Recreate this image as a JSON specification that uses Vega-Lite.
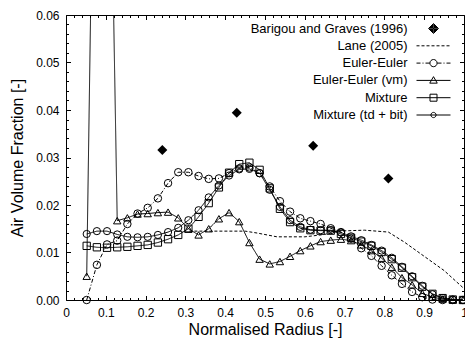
{
  "$schema": "https://vega.github.io/schema/vega-lite/v6.json",
  "width": 398,
  "height": 285,
  "autosize": {"type": "none"},
  "padding": {"left": 66, "top": 15, "right": 1, "bottom": 43},
  "background": "white",
  "config": {
    "font": "Liberation Sans",
    "view": {"stroke": "black", "strokeWidth": 1},
    "axis": {"domain": false, "grid": false, "tickColor": "black", "tickWidth": 1, "labelColor": "black", "labelFontSize": 12, "labelFont": "Liberation Sans", "titleColor": "black", "titleFontSize": 16, "titleFontWeight": "normal", "titleFont": "Liberation Sans", "labelFlush": false, "labelOverlap": false}
  },
  "data": {"values": [
    {"s":"Barigou and Graves (1996)","r":0.242,"v":0.0316},
    {"s":"Barigou and Graves (1996)","r":0.429,"v":0.0394},
    {"s":"Barigou and Graves (1996)","r":0.621,"v":0.0325},
    {"s":"Barigou and Graves (1996)","r":0.81,"v":0.0256},
    {"s":"Lane (2005)","r":0.31,"v":0.0145},
    {"s":"Lane (2005)","r":0.45,"v":0.0145},
    {"s":"Lane (2005)","r":0.48,"v":0.0141},
    {"s":"Lane (2005)","r":0.53,"v":0.0133},
    {"s":"Lane (2005)","r":0.6,"v":0.0133},
    {"s":"Lane (2005)","r":0.65,"v":0.0138},
    {"s":"Lane (2005)","r":0.68,"v":0.0145},
    {"s":"Lane (2005)","r":0.75,"v":0.0147},
    {"s":"Lane (2005)","r":0.81,"v":0.0143},
    {"s":"Lane (2005)","r":0.85,"v":0.0122},
    {"s":"Lane (2005)","r":0.89,"v":0.0098},
    {"s":"Lane (2005)","r":0.95,"v":0.0062},
    {"s":"Lane (2005)","r":1.0,"v":0.0024},
    {"s":"Euler-Euler","r":0.052,"v":0.0},
    {"s":"Euler-Euler","r":0.0776,"v":0.0074},
    {"s":"Euler-Euler","r":0.1031,"v":0.0117},
    {"s":"Euler-Euler","r":0.1287,"v":0.0125},
    {"s":"Euler-Euler","r":0.1542,"v":0.016},
    {"s":"Euler-Euler","r":0.1798,"v":0.0182},
    {"s":"Euler-Euler","r":0.2053,"v":0.0194},
    {"s":"Euler-Euler","r":0.2309,"v":0.0214},
    {"s":"Euler-Euler","r":0.2564,"v":0.0246},
    {"s":"Euler-Euler","r":0.282,"v":0.0269},
    {"s":"Euler-Euler","r":0.3075,"v":0.0269},
    {"s":"Euler-Euler","r":0.3331,"v":0.0261},
    {"s":"Euler-Euler","r":0.3586,"v":0.0255},
    {"s":"Euler-Euler","r":0.3842,"v":0.0256},
    {"s":"Euler-Euler","r":0.4097,"v":0.0267},
    {"s":"Euler-Euler","r":0.4353,"v":0.0277},
    {"s":"Euler-Euler","r":0.4608,"v":0.0279},
    {"s":"Euler-Euler","r":0.4864,"v":0.0267},
    {"s":"Euler-Euler","r":0.5119,"v":0.0239},
    {"s":"Euler-Euler","r":0.5375,"v":0.0208},
    {"s":"Euler-Euler","r":0.563,"v":0.0186},
    {"s":"Euler-Euler","r":0.5886,"v":0.0172},
    {"s":"Euler-Euler","r":0.6141,"v":0.0166},
    {"s":"Euler-Euler","r":0.6397,"v":0.016},
    {"s":"Euler-Euler","r":0.6652,"v":0.0151},
    {"s":"Euler-Euler","r":0.6908,"v":0.0143},
    {"s":"Euler-Euler","r":0.7163,"v":0.0129},
    {"s":"Euler-Euler","r":0.7419,"v":0.0109},
    {"s":"Euler-Euler","r":0.7674,"v":0.0093},
    {"s":"Euler-Euler","r":0.793,"v":0.0072},
    {"s":"Euler-Euler","r":0.8185,"v":0.0052},
    {"s":"Euler-Euler","r":0.8441,"v":0.0034},
    {"s":"Euler-Euler","r":0.8696,"v":0.0017},
    {"s":"Euler-Euler","r":0.8952,"v":0.0006},
    {"s":"Euler-Euler","r":0.9207,"v":0.0001},
    {"s":"Euler-Euler","r":0.9463,"v":0.0},
    {"s":"Euler-Euler","r":0.9718,"v":0.0},
    {"s":"Euler-Euler","r":0.9974,"v":0.0},
    {"s":"Euler-Euler (vm)","r":0.052,"v":0.005},
    {"s":"Euler-Euler (vm)","r":0.0776,"v":0.15},
    {"s":"Euler-Euler (vm)","r":0.1031,"v":0.14},
    {"s":"Euler-Euler (vm)","r":0.1287,"v":0.0167},
    {"s":"Euler-Euler (vm)","r":0.1542,"v":0.0173},
    {"s":"Euler-Euler (vm)","r":0.1798,"v":0.0181},
    {"s":"Euler-Euler (vm)","r":0.2053,"v":0.0182},
    {"s":"Euler-Euler (vm)","r":0.2309,"v":0.0184},
    {"s":"Euler-Euler (vm)","r":0.2564,"v":0.0185},
    {"s":"Euler-Euler (vm)","r":0.282,"v":0.0173},
    {"s":"Euler-Euler (vm)","r":0.3075,"v":0.015},
    {"s":"Euler-Euler (vm)","r":0.3331,"v":0.0137},
    {"s":"Euler-Euler (vm)","r":0.3586,"v":0.015},
    {"s":"Euler-Euler (vm)","r":0.3842,"v":0.0171},
    {"s":"Euler-Euler (vm)","r":0.4097,"v":0.0184},
    {"s":"Euler-Euler (vm)","r":0.4353,"v":0.0165},
    {"s":"Euler-Euler (vm)","r":0.4608,"v":0.0121},
    {"s":"Euler-Euler (vm)","r":0.4864,"v":0.0086},
    {"s":"Euler-Euler (vm)","r":0.5119,"v":0.0076},
    {"s":"Euler-Euler (vm)","r":0.5375,"v":0.0081},
    {"s":"Euler-Euler (vm)","r":0.563,"v":0.0092},
    {"s":"Euler-Euler (vm)","r":0.5886,"v":0.0104},
    {"s":"Euler-Euler (vm)","r":0.6141,"v":0.0114},
    {"s":"Euler-Euler (vm)","r":0.6397,"v":0.0123},
    {"s":"Euler-Euler (vm)","r":0.6652,"v":0.0126},
    {"s":"Euler-Euler (vm)","r":0.6908,"v":0.0128},
    {"s":"Euler-Euler (vm)","r":0.7163,"v":0.0125},
    {"s":"Euler-Euler (vm)","r":0.7419,"v":0.0116},
    {"s":"Euler-Euler (vm)","r":0.7674,"v":0.0104},
    {"s":"Euler-Euler (vm)","r":0.793,"v":0.0088},
    {"s":"Euler-Euler (vm)","r":0.8185,"v":0.0069},
    {"s":"Euler-Euler (vm)","r":0.8441,"v":0.0047},
    {"s":"Euler-Euler (vm)","r":0.8696,"v":0.0032},
    {"s":"Euler-Euler (vm)","r":0.8952,"v":0.0014},
    {"s":"Euler-Euler (vm)","r":0.9207,"v":0.0006},
    {"s":"Euler-Euler (vm)","r":0.9463,"v":0.0002},
    {"s":"Euler-Euler (vm)","r":0.9718,"v":0.0},
    {"s":"Euler-Euler (vm)","r":0.9974,"v":0.0},
    {"s":"Mixture","r":0.052,"v":0.0114},
    {"s":"Mixture","r":0.0776,"v":0.0111},
    {"s":"Mixture","r":0.1031,"v":0.011},
    {"s":"Mixture","r":0.1287,"v":0.0111},
    {"s":"Mixture","r":0.1542,"v":0.0112},
    {"s":"Mixture","r":0.1798,"v":0.0114},
    {"s":"Mixture","r":0.2053,"v":0.0116},
    {"s":"Mixture","r":0.2309,"v":0.0121},
    {"s":"Mixture","r":0.2564,"v":0.0128},
    {"s":"Mixture","r":0.282,"v":0.0137},
    {"s":"Mixture","r":0.3075,"v":0.015},
    {"s":"Mixture","r":0.3331,"v":0.0175},
    {"s":"Mixture","r":0.3586,"v":0.0204},
    {"s":"Mixture","r":0.3842,"v":0.0237},
    {"s":"Mixture","r":0.4097,"v":0.0268},
    {"s":"Mixture","r":0.4353,"v":0.0286},
    {"s":"Mixture","r":0.4608,"v":0.0289},
    {"s":"Mixture","r":0.4864,"v":0.0274},
    {"s":"Mixture","r":0.5119,"v":0.0235},
    {"s":"Mixture","r":0.5375,"v":0.0192},
    {"s":"Mixture","r":0.563,"v":0.0164},
    {"s":"Mixture","r":0.5886,"v":0.0151},
    {"s":"Mixture","r":0.6141,"v":0.0147},
    {"s":"Mixture","r":0.6397,"v":0.0146},
    {"s":"Mixture","r":0.6652,"v":0.0146},
    {"s":"Mixture","r":0.6908,"v":0.0139},
    {"s":"Mixture","r":0.7163,"v":0.0131},
    {"s":"Mixture","r":0.7419,"v":0.0123},
    {"s":"Mixture","r":0.7674,"v":0.0114},
    {"s":"Mixture","r":0.793,"v":0.0101},
    {"s":"Mixture","r":0.8185,"v":0.0086},
    {"s":"Mixture","r":0.8441,"v":0.0068},
    {"s":"Mixture","r":0.8696,"v":0.0048},
    {"s":"Mixture","r":0.8952,"v":0.0028},
    {"s":"Mixture","r":0.9207,"v":0.0013},
    {"s":"Mixture","r":0.9463,"v":0.0004},
    {"s":"Mixture","r":0.9718,"v":0.0001},
    {"s":"Mixture","r":0.9974,"v":0.0},
    {"s":"Mixture (td + bit)","r":0.052,"v":0.0139},
    {"s":"Mixture (td + bit)","r":0.0776,"v":0.0145},
    {"s":"Mixture (td + bit)","r":0.1031,"v":0.0145},
    {"s":"Mixture (td + bit)","r":0.1287,"v":0.0138},
    {"s":"Mixture (td + bit)","r":0.1542,"v":0.0133},
    {"s":"Mixture (td + bit)","r":0.1798,"v":0.0132},
    {"s":"Mixture (td + bit)","r":0.2053,"v":0.0133},
    {"s":"Mixture (td + bit)","r":0.2309,"v":0.0137},
    {"s":"Mixture (td + bit)","r":0.2564,"v":0.0143},
    {"s":"Mixture (td + bit)","r":0.282,"v":0.0152},
    {"s":"Mixture (td + bit)","r":0.3075,"v":0.0168},
    {"s":"Mixture (td + bit)","r":0.3331,"v":0.0189},
    {"s":"Mixture (td + bit)","r":0.3586,"v":0.0216},
    {"s":"Mixture (td + bit)","r":0.3842,"v":0.0241},
    {"s":"Mixture (td + bit)","r":0.4097,"v":0.0262},
    {"s":"Mixture (td + bit)","r":0.4353,"v":0.0275},
    {"s":"Mixture (td + bit)","r":0.4608,"v":0.0276},
    {"s":"Mixture (td + bit)","r":0.4864,"v":0.0267},
    {"s":"Mixture (td + bit)","r":0.5119,"v":0.0232},
    {"s":"Mixture (td + bit)","r":0.5375,"v":0.0196},
    {"s":"Mixture (td + bit)","r":0.563,"v":0.0168},
    {"s":"Mixture (td + bit)","r":0.5886,"v":0.0154},
    {"s":"Mixture (td + bit)","r":0.6141,"v":0.0148},
    {"s":"Mixture (td + bit)","r":0.6397,"v":0.0147},
    {"s":"Mixture (td + bit)","r":0.6652,"v":0.0147},
    {"s":"Mixture (td + bit)","r":0.6908,"v":0.0142},
    {"s":"Mixture (td + bit)","r":0.7163,"v":0.0134},
    {"s":"Mixture (td + bit)","r":0.7419,"v":0.0126},
    {"s":"Mixture (td + bit)","r":0.7674,"v":0.0116},
    {"s":"Mixture (td + bit)","r":0.793,"v":0.0104},
    {"s":"Mixture (td + bit)","r":0.8185,"v":0.0089},
    {"s":"Mixture (td + bit)","r":0.8441,"v":0.007},
    {"s":"Mixture (td + bit)","r":0.8696,"v":0.005},
    {"s":"Mixture (td + bit)","r":0.8952,"v":0.003},
    {"s":"Mixture (td + bit)","r":0.9207,"v":0.0012},
    {"s":"Mixture (td + bit)","r":0.9463,"v":0.0004},
    {"s":"Mixture (td + bit)","r":0.9718,"v":0.0001},
    {"s":"Mixture (td + bit)","r":0.9974,"v":0.0}
  ]},
  "layer": [
    {
      "transform": [{"filter": "datum.s !== 'Barigou and Graves (1996)'"}],
      "mark": {"type": "line", "clip": true, "color": "black", "strokeWidth": 1},
      "encoding": {
        "x": {"field": "r", "type": "quantitative", "scale": {"domain": [0, 1], "nice": false},
              "axis": {"orient": "bottom", "values": [0,0.1,0.2,0.3,0.4,0.5,0.6,0.7,0.8,0.9,1], "format": "~g", "tickSize": -4.5, "labelPadding": 11.5, "title": "Normalised Radius [-]", "titlePadding": 3}},
        "y": {"field": "v", "type": "quantitative", "scale": {"domain": [0, 0.06], "nice": false, "zero": true},
              "axis": {"orient": "left", "values": [0,0.01,0.02,0.03,0.04,0.05,0.06], "format": ".2f", "tickSize": -4.5, "labelPadding": 11.5, "title": "Air Volume Fraction [-]", "titlePadding": 10}},
        "strokeDash": {"field": "s", "type": "nominal",
              "scale": {"domain": ["Lane (2005)","Euler-Euler","Euler-Euler (vm)","Mixture","Mixture (td + bit)"], "range": [[3,2],[4,2,1,2],[1,0],[1,0],[1,0]]},
              "legend": null}
      }
    },
    {
      "transform": [{"filter": "datum.s !== 'Barigou and Graves (1996)' && datum.s !== 'Lane (2005)'"}],
      "mark": {"type": "point", "filled": false, "color": "black", "strokeWidth": 1, "opacity": 1},
      "encoding": {
        "x": {"field": "r", "type": "quantitative", "scale": {"domain": [0, 1], "nice": false},
              "axis": {"orient": "top", "values": [0,0.1,0.2,0.3,0.4,0.5,0.6,0.7,0.8,0.9,1], "labels": false, "tickSize": -4.5, "title": null}},
        "y": {"field": "v", "type": "quantitative", "scale": {"domain": [0, 0.06], "nice": false},
              "axis": {"orient": "right", "values": [0,0.01,0.02,0.03,0.04,0.05,0.06], "labels": false, "tickSize": -4.5, "title": null}},
        "shape": {"field": "s", "type": "nominal",
              "scale": {"domain": ["Euler-Euler","Euler-Euler (vm)","Mixture","Mixture (td + bit)"], "range": ["circle","triangle-up","square","circle"]},
              "legend": null},
        "size": {"field": "s", "type": "nominal",
              "scale": {"domain": ["Euler-Euler","Euler-Euler (vm)","Mixture","Mixture (td + bit)"], "range": [56, 52, 49, 30]},
              "legend": null}
      }
    },
    {
      "transform": [{"filter": "datum.s === 'Barigou and Graves (1996)'"}],
      "mark": {"type": "point", "shape": "diamond", "filled": true, "color": "black", "size": 100, "opacity": 1},
      "encoding": {
        "x": {"field": "r", "type": "quantitative", "scale": {"domain": [0, 1], "nice": false},
              "axis": {"orient": "bottom", "values": [0.02,0.04,0.06,0.08,0.12,0.14,0.16,0.18,0.22,0.24,0.26,0.28,0.32,0.34,0.36,0.38,0.42,0.44,0.46,0.48,0.52,0.54,0.56,0.58,0.62,0.64,0.66,0.68,0.72,0.74,0.76,0.78,0.82,0.84,0.86,0.88,0.92,0.94,0.96,0.98], "labels": false, "tickSize": -2.5, "title": null}},
        "y": {"field": "v", "type": "quantitative", "scale": {"domain": [0, 0.06], "nice": false},
              "axis": {"orient": "left", "values": [0.002,0.004,0.006,0.008,0.012,0.014,0.016,0.018,0.022,0.024,0.026,0.028,0.032,0.034,0.036,0.038,0.042,0.044,0.046,0.048,0.052,0.054,0.056,0.058], "labels": false, "tickSize": -2.5, "title": null}}
      }
    },
    {
      "transform": [{"filter": "false"}],
      "mark": {"type": "point", "filled": false, "color": "black", "strokeWidth": 1, "opacity": 1},
      "encoding": {
        "x": {"field": "r", "type": "quantitative", "scale": {"domain": [0, 1], "nice": false},
              "axis": {"orient": "top", "values": [0.02,0.04,0.06,0.08,0.12,0.14,0.16,0.18,0.22,0.24,0.26,0.28,0.32,0.34,0.36,0.38,0.42,0.44,0.46,0.48,0.52,0.54,0.56,0.58,0.62,0.64,0.66,0.68,0.72,0.74,0.76,0.78,0.82,0.84,0.86,0.88,0.92,0.94,0.96,0.98], "labels": false, "tickSize": -2.5, "title": null}},
        "y": {"field": "v", "type": "quantitative", "scale": {"domain": [0, 0.06], "nice": false},
              "axis": {"orient": "right", "values": [0.002,0.004,0.006,0.008,0.012,0.014,0.016,0.018,0.022,0.024,0.026,0.028,0.032,0.034,0.036,0.038,0.042,0.044,0.046,0.048,0.052,0.054,0.056,0.058], "labels": false, "tickSize": -2.5, "title": null}},
        "shape": {"field": "s", "type": "nominal",
              "scale": {"domain": ["Barigou and Graves (1996)","Lane (2005)","Euler-Euler","Euler-Euler (vm)","Mixture","Mixture (td + bit)"],
                        "range": [
                          "M0,-1L1,0L0,1L-1,0ZM0,-0.8L0.8,0L0,0.8L-0.8,0ZM0,-0.6L0.6,0L0,0.6L-0.6,0ZM0,-0.4L0.4,0L0,0.4L-0.4,0ZM0,-0.2L0.2,0L0,0.2L-0.2,0ZM-0.1,0L0.1,0",
                          "M-3.4,0L-2.8,0M-2.4,0L-1.8,0M-1.4,0L-0.8,0M-0.4,0L0.2,0M0.6,0L1.2,0M1.6,0L2.2,0M2.6,0L3.2,0",
                          "M-3.4,0L-2.6,0M-2.2,0L-2,0M-1.6,0L-0.72,0M0.72,0L1.6,0M2,0L2.2,0M2.6,0L3.4,0M0.72,0A0.72,0.72 0 1,1 -0.72,0A0.72,0.72 0 1,1 0.72,0",
                          "M-3.4,0L3.4,0M0,-0.75L0.75,0.55L-0.75,0.55Z",
                          "M-3.4,0L3.4,0M-0.7,-0.7L0.7,-0.7L0.7,0.7L-0.7,0.7Z",
                          "M-3.4,0L3.4,0M0.52,0A0.52,0.52 0 1,1 -0.52,0A0.52,0.52 0 1,1 0.52,0"
                        ]},
              "legend": {"title": null, "orient": "none", "legendX": 361, "legendY": 7, "symbolSize": 100, "symbolStrokeWidth": 1, "symbolStrokeColor": "black", "symbolFillColor": "transparent", "symbolOpacity": 1, "labelAlign": "right", "labelOffset": -32.5, "labelFontSize": 13, "labelFont": "Liberation Sans", "labelColor": "black", "labelLimit": 300, "rowPadding": 3.3, "padding": 0}}
      }
    }
  ],
  "resolve": {"scale": {"shape": "independent"}, "axis": {"x": "independent", "y": "independent"}}
}
